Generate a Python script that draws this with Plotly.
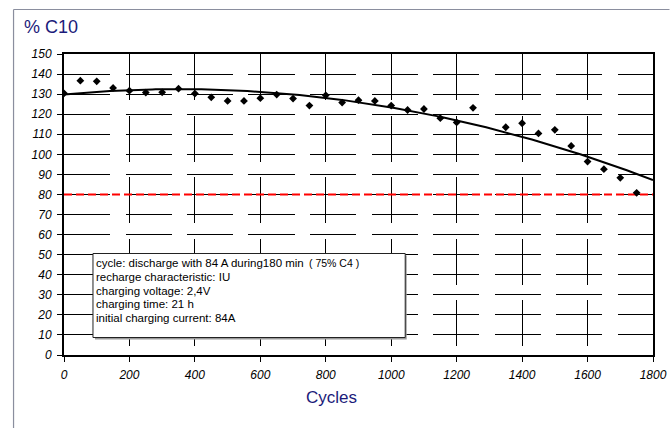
import numpy as np
import plotly.graph_objects as go

# ---- data ----
cycles = [0, 50, 100, 150, 200, 250, 300, 350, 400, 450, 500, 550, 600, 650,
          700, 750, 800, 850, 900, 950, 1000, 1050, 1100, 1150, 1200, 1250,
          1350, 1400, 1450, 1500, 1550, 1600, 1650, 1700, 1750]
capacity = [130.4, 136.7, 136.4, 133.1, 131.7, 130.8, 130.9, 132.7, 130.3, 128.4,
            126.6, 126.6, 128.0, 129.8, 127.8, 124.3, 129.4, 125.8, 127.0, 126.6,
            124.3, 122.1, 122.6, 118.0, 115.9, 123.2, 113.5, 115.5, 110.4, 112.2,
            104.2, 96.4, 92.6, 88.3, 80.8]
limit_x = [0, 1800]
limit_y = [80, 80]
x_ticks = [0, 200, 400, 600, 800, 1000, 1200, 1400, 1600, 1800]
y_ticks = list(range(0, 151, 10))
box_lines = ["cycle: discharge with 84 A during180 min",
             "recharge characteristic: IU",
             "charging voltage: 2,4V",
             "charging time: 21 h",
             "initial charging current: 84A"]
box_extra = "( 75% C4 )"
y_title = "% C10"
x_title = "Cycles"

# polynomial trend line (as the original spreadsheet trend line)
coef = np.polyfit(cycles, capacity, 2)
trend_x = np.linspace(0, 1800, 181)
trend_y = np.polyval(coef, trend_x)

# ---- layout geometry (page pixels) ----
W, H = 670, 428
L, R, T, B = 64, 653.5, 54, 355
PW, PH = R - L, B - T


def px(x):
    return (x - L) / PW


def py(y):
    return 1 - (y - T) / PH


FONT = "Liberation Sans"
NAVY = "#1b1b7a"

fig = go.Figure()
fig.add_trace(go.Scatter(x=limit_x, y=limit_y, mode="lines",
                         line=dict(color="#ff0000", width=2, dash="8px,4px"),
                         hoverinfo="skip", showlegend=False))
fig.add_trace(go.Scatter(x=trend_x, y=trend_y, mode="lines",
                         line=dict(color="black", width=2),
                         hoverinfo="skip", showlegend=False))
fig.add_trace(go.Scatter(x=cycles, y=capacity, mode="markers",
                         marker=dict(symbol="diamond", size=6, color="black"),
                         showlegend=False))

axis_common = dict(
    showline=True, linecolor="black", linewidth=2, mirror=True,
    ticks="outside", ticklen=5, tickcolor="black", tickwidth=1,
    showgrid=True, gridcolor="black", gridwidth=1, griddash="46px,15.5px",
    zeroline=False, automargin=False, ticklabelstandoff=3,
    tickfont=dict(family=FONT, size=12, color="black", style="italic"),
)

fig.update_layout(
    width=W, height=H,
    margin=dict(l=L, r=W - R, t=T, b=H - B, pad=0, autoexpand=False),
    paper_bgcolor="white", plot_bgcolor="white",
    xaxis=dict(range=[0, 1800], tickvals=x_ticks,
               ticktext=[f"<i>{v}</i>" for v in x_ticks], **axis_common),
    yaxis=dict(range=[0, 150], tickvals=y_ticks,
               ticktext=[f"<i>{v}</i>" for v in y_ticks], **axis_common),
    font=dict(family=FONT),
)

shapes = []
# outer chart frame (left and top edges visible)
shapes.append(dict(type="line", xref="paper", yref="paper",
                   x0=px(13.5), x1=px(670), y0=py(9.5), y1=py(9.5),
                   line=dict(color="#8a8e9e", width=1.2)))
shapes.append(dict(type="line", xref="paper", yref="paper",
                   x0=px(13.5), x1=px(13.5), y0=py(9.5), y1=py(428),
                   line=dict(color="#8a8e9e", width=1.2)))
# text box with shadow
shapes.append(dict(type="rect", xref="paper", yref="paper",
                   x0=px(95), x1=px(407), y0=py(339.5), y1=py(255.5),
                   line=dict(width=0), fillcolor="#9a9a9a", layer="above"))
shapes.append(dict(type="rect", xref="paper", yref="paper",
                   x0=px(93), x1=px(405.5), y0=py(337.5), y1=py(253.5),
                   line=dict(color="#222", width=1), fillcolor="white",
                   layer="above"))
fig.update_layout(shapes=shapes)

ann = []
ann.append(dict(text=y_title, xref="paper", yref="paper", x=px(22), y=py(27),
                xanchor="left", yanchor="middle", showarrow=False,
                font=dict(family=FONT, size=18, color=NAVY)))
ann.append(dict(text=x_title, xref="paper", yref="paper", x=px(332), y=py(397),
                xanchor="center", yanchor="middle", showarrow=False,
                font=dict(family=FONT, size=17, color=NAVY)))
line_y = [262.7, 276.6, 290.5, 304.4, 318.3]
for t, yy in zip(box_lines, line_y):
    ann.append(dict(text=t, xref="paper", yref="paper", x=px(94), y=py(yy),
                    xanchor="left", yanchor="middle", showarrow=False,
                    font=dict(family=FONT, size=11.5, color="black")))
ann.append(dict(text=box_extra, xref="paper", yref="paper", x=px(307), y=py(262.7),
                xanchor="left", yanchor="middle", showarrow=False,
                font=dict(family=FONT, size=10.5, color="black")))
fig.update_layout(annotations=ann)

page_fix = ("document.body.style.margin='0';"
            "document.body.style.overflow='hidden';"
            "document.documentElement.style.overflow='hidden';")
fig.write_html("out.html", post_script=page_fix,
               config={"displayModeBar": False})
